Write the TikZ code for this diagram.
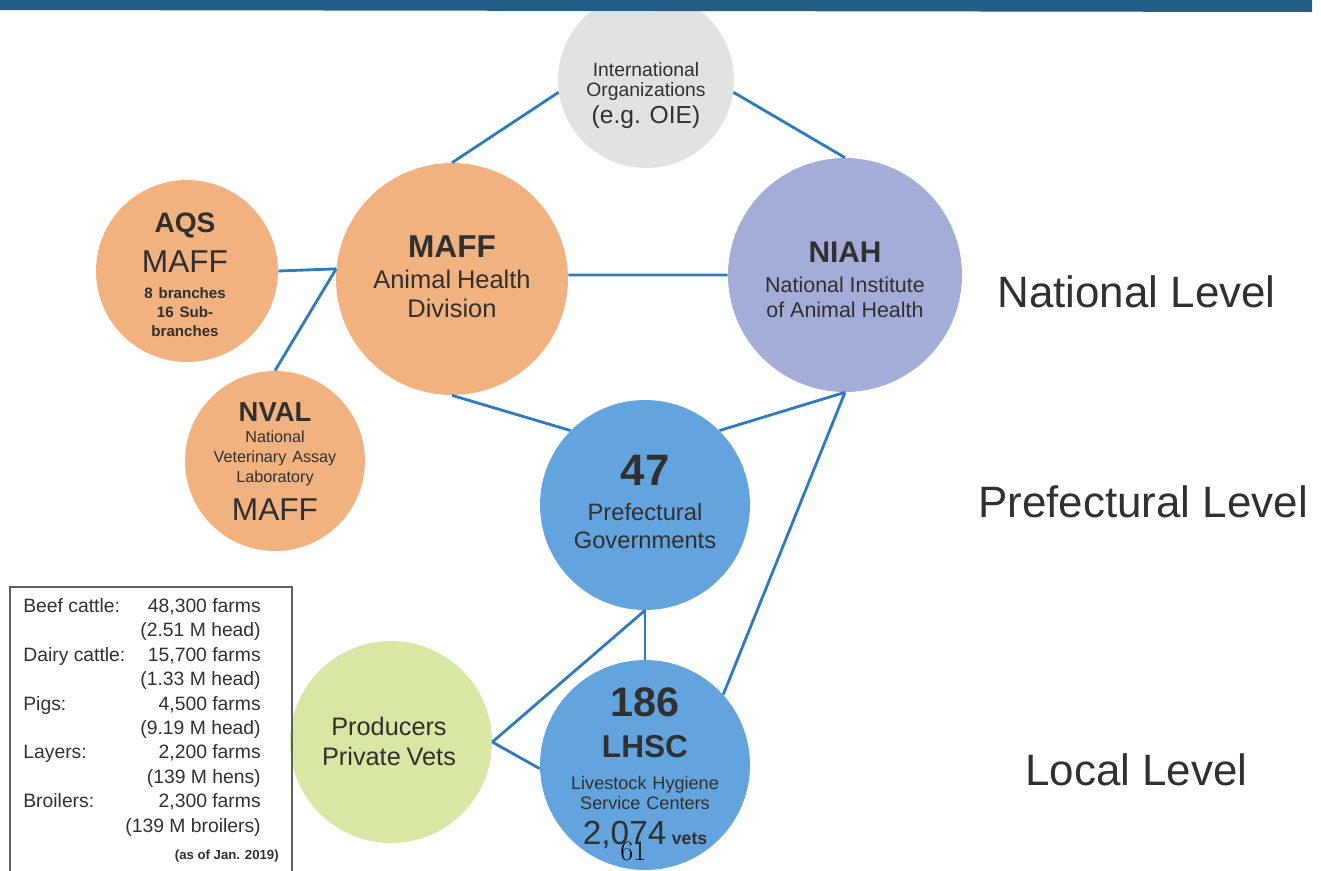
\documentclass[tikz,border=0pt]{standalone}
\usepackage{fontspec}
\setmainfont{Liberation Sans}
\setlength{\parindent}{0pt}

\definecolor{maffor}{RGB}{242,178,128}
\definecolor{niahblue}{RGB}{164,172,216}
\definecolor{govblue}{RGB}{100,164,222}
\definecolor{prodgreen}{RGB}{216,231,164}
\definecolor{intlgray}{RGB}{226,226,226}
\definecolor{linkblue}{RGB}{46,122,192}
\definecolor{barblue}{RGB}{34,94,134}
\definecolor{inkgray}{RGB}{48,48,48}
\definecolor{boxgray}{RGB}{95,95,95}

\newcommand{\txtline}[3]{{\fontsize{#1}{#2}\selectfont #3\par}}

\begin{document}
\begin{tikzpicture}[x=0.02cm,y=-0.02cm,
  unit/.style={circle,fill=#1,draw=none,inner sep=0pt},
  unittext/.style={anchor=north,inner sep=0pt,text width=4cm,align=center,text=inkgray},
  link/.style={linkblue,line width=1.6pt},
  level/.style={anchor=base west,inner sep=0pt,text=inkgray,font=\fontsize{25}{30}\selectfont}]
\useasboundingbox (0,0) rectangle (1321,870);

% circles
\node[unit=intlgray,minimum size=3.52cm] (intl) at (646,80) {};
\node[unit=maffor,minimum size=4.64cm] (maff) at (452,279) {};
\node[unit=niahblue,minimum size=4.68cm] (niah) at (845,275) {};
\node[unit=maffor,minimum size=3.64cm] (aqs) at (187,271) {};
\node[unit=maffor,minimum size=3.6cm] (nval) at (275,461) {};
\node[unit=govblue,minimum size=4.2cm] (pref) at (645,505) {};
\node[unit=prodgreen,minimum size=4.04cm] (prod) at (391,742) {};
\node[unit=govblue,minimum size=4.2cm] (lhsc) at (645,765) {};

% top rule
\fill[barblue] (0,0) -- (1312,0) -- (1312,12) -- (0,10) -- cycle;

% connectors
\draw[link] (intl.188) -- (maff.north);
\draw[link] (intl.352) -- (niah.north);
\draw[link] (aqs.east) -- (maff.175);
\draw[link] (nval.north) -- (maff.175);
\draw[link] (maff.2) -- (niah.180);
\draw[link] (maff.south) -- (pref.135);
\draw[link] (niah.south) -- (pref.45);
\draw[link] (niah.south) -- (lhsc.42);
\draw[link] (pref.south) -- (lhsc.north);
\draw[link] (prod.east) -- (pref.south);
\draw[link] (prod.east) -- (lhsc.182);

% circle texts
\node[unittext] (intl-txt) at (646,62) {\txtline{11}{11}{International}\txtline{11}{11.3}{Organizations}\txtline{14}{15.3}{(e.g. OIE)}};
\node[unittext] (maff-txt) at (452,235) {\txtline{18}{18}{\bfseries MAFF}\txtline{14.5}{17.6}{Animal Health}\txtline{14.5}{17}{Division}};
\node[unittext] (aqs-txt) at (185,213) {\txtline{16}{16}{\bfseries AQS}\txtline{18}{22.7}{MAFF}\txtline{8.6}{14.6}{\bfseries 8 branches}\txtline{8.6}{10.6}{\bfseries 16 Sub-}\txtline{8.6}{11.2}{\bfseries branches}};
\node[unittext] (nval-txt) at (275,402) {\txtline{15.6}{15.6}{\bfseries NVAL}\txtline{9.2}{11.9}{National}\txtline{9.2}{11.6}{Veterinary Assay}\txtline{9.2}{11.3}{Laboratory}\txtline{18}{21.5}{MAFF}};
\node[unittext] (niah-txt) at (845,242) {\txtline{17}{17}{\bfseries NIAH}\txtline{12.2}{17}{National Institute}\txtline{12.2}{14.2}{of Animal Health}};
\node[unittext] (pref-txt) at (645,455) {\txtline{25}{25}{\bfseries 47}\txtline{13.5}{19.8}{Prefectural}\txtline{13.5}{15.9}{Governments}};
\node[unittext] (lhsc-txt) at (645,687) {\txtline{23.5}{23.5}{\bfseries 186}\txtline{18}{23.4}{\bfseries LHSC}\txtline{10.3}{18.2}{Livestock Hygiene}\txtline{10.3}{11.5}{Service Centers}\txtline{19}{19.8}{2,074\,{\fontsize{10}{12}\selectfont\bfseries vets}}};
\node[unittext] (prod-txt) at (389,717) {\txtline{14.4}{14.4}{Producers}\txtline{14.4}{17}{Private Vets}};

% levels
\node[level] (natl-lvl) at (997,307) {National Level};
\node[level] (pref-lvl) at (978,517) {Prefectural Level};
\node[level] (local-lvl) at (1025,785) {Local Level};

% farm statistics
\draw[boxgray,line width=1.1pt] (10,880) -- (10,587) -- (292,587) -- (292,880);
\node[anchor=north west,inner sep=0pt,text=inkgray] (stats) at (23,595) {\fontsize{11}{13.9}\selectfont
  \begin{tabular*}{4.7cm}{@{}l@{\extracolsep{\fill}}r@{}}
  Beef cattle: & 48,300 farms\\
   & (2.51 M head)\\
  Dairy cattle: & 15,700 farms\\
   & (1.33 M head)\\
  Pigs: & 4,500 farms\\
   & (9.19 M head)\\
  Layers: & 2,200 farms\\
   & (139 M hens)\\
  Broilers: & 2,300 farms\\
   & (139 M broilers)
  \end{tabular*}};
\node[anchor=base east,inner sep=0pt,text=inkgray,font=\fontsize{7.5}{9}\selectfont\bfseries] (asof) at (279,859) {(as of Jan. 2019)};

% page number
\node[anchor=base west,inner sep=0pt,font=\fontfamily{lmr}\fontsize{16}{18}\selectfont] (pagenum) at (620,860) {61};
\end{tikzpicture}
\end{document}
